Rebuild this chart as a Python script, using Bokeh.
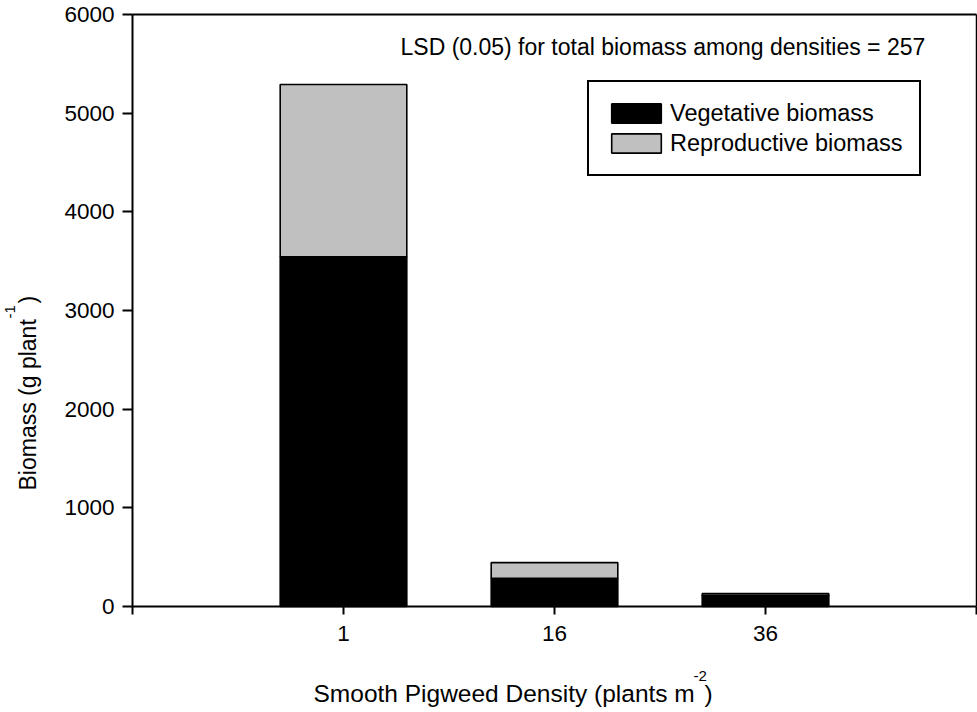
import math
from bokeh.plotting import figure
from bokeh.models import Range1d, FixedTicker, Label, Legend, LegendItem, ColumnDataSource
from bokeh.embed import file_html
from bokeh.resources import INLINE

# ---- data ----
densities = ["1", "16", "36"]
positions = [1, 2, 3]
vegetative = [3545, 285, 110]
reproductive = [1745, 160, 20]
y_ticks = [0, 1000, 2000, 3000, 4000, 5000, 6000]
x_ticks = [0, 1, 2, 3, 4]
series_names = ["Vegetative biomass", "Reproductive biomass"]
lsd_text = "LSD (0.05) for total biomass among densities = 257"

FONT = "Liberation Sans"
W, H = 977, 712
# plot box in pixels: left 132, right 976, top 14, bottom 606
L, R, T, B = 132, 976, 14, 606
xmin, xmax = x_ticks[0], x_ticks[-1]
ymin, ymax = y_ticks[0], y_ticks[-1]
ppx = (R - L) / (xmax - xmin)
ppy = (B - T) / (ymax - ymin)
x_range = Range1d(xmin - L / ppx, xmax + (W - R) / ppx)
y_range = Range1d(ymin - (H - B) / ppy, ymax + T / ppy)

p = figure(width=W, height=H, output_backend="svg", toolbar_location=None,
           x_range=x_range, y_range=y_range,
           min_border=0, min_border_left=0, min_border_right=0,
           min_border_top=0, min_border_bottom=0,
           background_fill_color="white", border_fill_color="white")
p.outline_line_color = None
p.grid.visible = False

src = ColumnDataSource(dict(x=positions, veg=vegetative, rep=reproductive))
rs = p.vbar_stack(["veg", "rep"], x="x", width=0.6, source=src,
                  fill_color=["black", "#c0c0c0"], line_color="black", line_width=1.6)

# frame top and right edges
p.segment(x0=[xmin], y0=[ymax], x1=[xmax], y1=[ymax], line_color="black", line_width=2)
p.segment(x0=[xmax], y0=[ymin], x1=[xmax], y1=[ymax], line_color="black", line_width=1.5)

legend = Legend(items=[LegendItem(label=series_names[0], renderers=[rs[0]]),
                       LegendItem(label=series_names[1], renderers=[rs[1]])],
                location=(587, H - 176), orientation="vertical",
                border_line_color="black", border_line_width=2, border_line_alpha=1,
                background_fill_color="white", background_fill_alpha=1,
                label_text_font=FONT, label_text_font_size="23.5px", label_text_color="black",
                glyph_width=62, glyph_height=24, label_standoff=3, padding=16,
                spacing=0, margin=0, label_height=30)
p.add_layout(legend)

for ax in (p.xaxis, p.yaxis):
    ax.axis_line_width = 2
    ax.axis_line_color = "black"
    ax.major_tick_line_width = 2
    ax.major_tick_line_color = "black"
    ax.major_tick_in = 0
    ax.minor_tick_line_color = None
    ax.major_label_text_font = FONT
    ax.major_label_text_font_size = "22.5px"
    ax.major_label_text_color = "black"

p.xaxis.fixed_location = ymin
p.xaxis.bounds = (xmin, xmax)
p.xaxis.ticker = FixedTicker(ticks=x_ticks)
p.xaxis.major_label_overrides = {0: "", 1: densities[0], 2: densities[1], 3: densities[2], 4: ""}
p.xaxis.major_tick_out = 8
p.xaxis.major_label_standoff = 11

p.yaxis.fixed_location = xmin
p.yaxis.bounds = (ymin, ymax)
p.yaxis.ticker = FixedTicker(ticks=y_ticks)
p.yaxis.major_tick_out = 10
p.yaxis.major_label_standoff = 8

def lab(text, x, y, size="23px", angle=0.0):
    p.add_layout(Label(x=x, y=H - y, x_units="screen", y_units="screen", text=text,
                       text_font=FONT, text_font_size=size, text_color="black",
                       text_align="left", text_baseline="alphabetic", angle=angle))

# positions below given in pixels from the top-left
lab(lsd_text, 400, 46)
# x axis title with superscript
lab("Smooth Pigweed Density (plants m", 313, 693, size="24.5px")
lab("-2", 693, 675, size="15px")
lab(")", 704, 693, size="24.5px")
# y axis title with superscript
lab("Biomass (g plant", 27, 490, angle=math.pi / 2)
lab("-1", 9, 318, size="15px", angle=math.pi / 2)
lab(")", 27, 303, angle=math.pi / 2)

open("out.html", "w").write(file_html(p, INLINE))
